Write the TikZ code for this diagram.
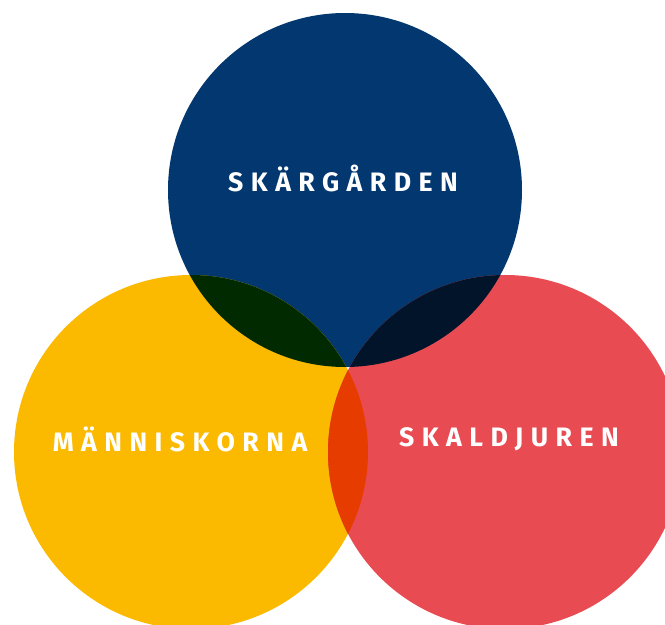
\documentclass[tikz,border=0pt]{standalone}
\usepackage{fontspec}
\newfontfamily\venntext[LetterSpace=28]{Fira Sans}
\definecolor{skarblue}{HTML}{02376F}
\definecolor{mannyellow}{HTML}{FBBA00}
\definecolor{skalred}{HTML}{E84B52}
\definecolor{blueyellow}{HTML}{022A00}
\definecolor{bluered}{HTML}{02142A}
\definecolor{yellowred}{HTML}{E63C00}
\tikzset{every picture/.style={line width=0.75pt}}
\tikzset{circlelabel/.style={text=white,font=\venntext\bfseries\fontsize{20}{24}\selectfont}}

\begin{document}
\begin{tikzpicture}[x=0.75pt,y=0.75pt,yscale=-1,xscale=1]
\useasboundingbox (0,0) rectangle (665,625);

%Shape: Circle [id:top]
\fill [skarblue] (345,190) circle (177);
%Shape: Circle [id:left]
\fill [mannyellow] (191,452) circle (177);
%Shape: Circle [id:right]
\fill [skalred] (505,452) circle (177);

% overlaps
\begin{scope}
\clip (345,190) circle (177);
\fill [blueyellow] (191,452) circle (177);
\fill [bluered] (505,452) circle (177);
\end{scope}
\begin{scope}
\clip (191,452) circle (177);
\fill [yellowred] (505,452) circle (177);
\end{scope}

% Text Node
\node [circlelabel] (skargarden) at (343,178) {SKÄRGÅRDEN};
\node [circlelabel] (manniskorna) at (180,439) {MÄNNISKORNA};
\node [circlelabel] (skaldjuren) at (509,439) {SKALDJUREN};
\end{tikzpicture}
\end{document}
